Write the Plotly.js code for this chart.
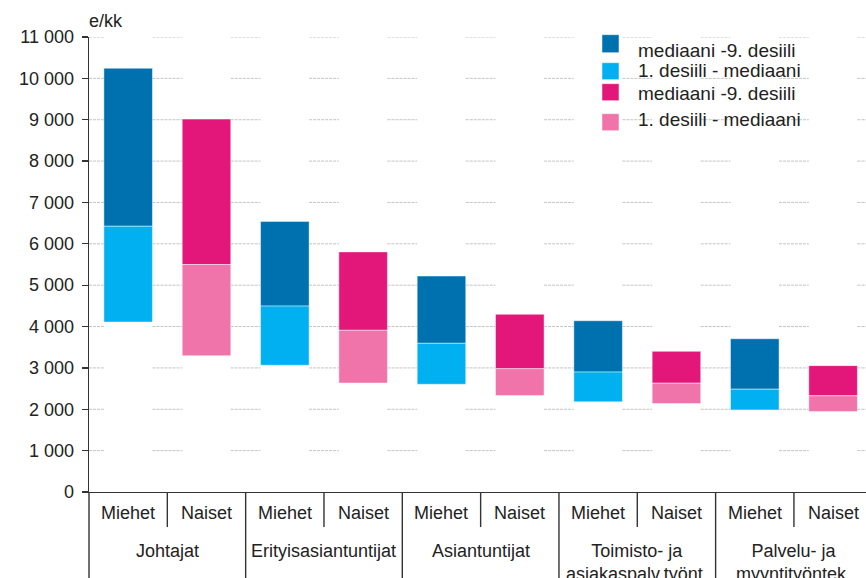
<!DOCTYPE html>
<html><head><meta charset="utf-8">
<script src="https://cdn.plot.ly/plotly-3.0.1.min.js"></script>
<style>html,body{margin:0;padding:0;background:#fff}#chart{width:866px;height:578px}</style>
</head><body><div id="chart"></div>
<script>
// ---- data ----
const groups = ["Johtajat", "Erityisasiantuntijat", "Asiantuntijat", "Toimisto- ja<br>asiakaspalv.työnt.", "Palvelu- ja<br>myyntityöntek."];
const genderLabels = ["Miehet", "Naiset"];
const menD1 = [4110, 3065, 2605, 2180, 1985];
const menMedian = [6425, 4495, 3595, 2900, 2485];
const menD9 = [10245, 6540, 5220, 4140, 3705];
const womenD1 = [3295, 2635, 2330, 2140, 1945];
const womenMedian = [5500, 3910, 2980, 2630, 2325];
const womenD9 = [9015, 5805, 4295, 3400, 3055];
const legendNames = ["mediaani -9. desiili", "1. desiili - mediaani", "mediaani -9. desiili", "1. desiili - mediaani"];
const yTickVals = [0, 1000, 2000, 3000, 4000, 5000, 6000, 7000, 8000, 9000, 10000, 11000];
const yTickText = ["0", "1 000", "2 000", "3 000", "4 000", "5 000", "6 000", "7 000", "8 000", "9 000", "10 000", "11 000"];
const unitLabel = "e/kk";

// ---- layout settings ----
const FONT = "'Liberation Sans', Arial, sans-serif";
const TXT = "#222";
const BW = 0.62;
const XR = [-0.5, 9.42];
const colors = ["#0071AF", "#00B0F0", "#E3177A", "#F073AA"];
// manual legend placement (paper coords)
const legSquareX = [0.6602, 0.6821];
const legSquareY = [[0.9655, 1.0051], [0.9062, 0.9435], [0.8600, 0.8974], [0.7941, 0.8314]];
const legTextX = 0.7040;
const legTextY = [0.9714, 0.9253, 0.8754, 0.8193];

const menX = groups.map((g, i) => 2 * i);
const womenX = groups.map((g, i) => 2 * i + 1);
const allX = menX.concat(womenX).sort((a, b) => a - b);

function diff(a, b) { return a.map((v, i) => v - b[i]); }

const barLine = {color: "rgba(255,255,255,0.45)", width: 1};
const traces = [
  {type: "bar", x: menX, y: diff(menD9, menMedian), base: menMedian, name: legendNames[0], marker: {color: colors[0], line: barLine}},
  {type: "bar", x: menX, y: diff(menMedian, menD1), base: menD1, name: legendNames[1], marker: {color: colors[1], line: barLine}},
  {type: "bar", x: womenX, y: diff(womenD9, womenMedian), base: womenMedian, name: legendNames[2], marker: {color: colors[2], line: barLine}},
  {type: "bar", x: womenX, y: diff(womenMedian, womenD1), base: womenD1, name: legendNames[3], marker: {color: colors[3], line: barLine}}
].map(t => Object.assign(t, {width: BW, hoverinfo: "skip", showlegend: false}));

const toPaperX = x => (x - XR[0]) / (XR[1] - XR[0]);
const shapes = [];
// gridlines between bars
yTickVals.slice(1).forEach(v => {
  const edges = [XR[0]];
  allX.forEach(x => { edges.push(x - BW / 2); edges.push(x + BW / 2); });
  edges.push(XR[1]);
  for (let k = 0; k < edges.length; k += 2) {
    shapes.push({type: "line", xref: "x", yref: "y", x0: edges[k], x1: edges[k + 1], y0: v, y1: v,
      layer: "below", line: {color: "#c4c4c4", width: 1, dash: "3px,1px"}});
  }
});
// group dividers (full height) and gender dividers (short)
groups.forEach((g, i) => {
  const xg = 2 * i - 0.5;
  shapes.push({type: "line", xref: "paper", yref: "paper", x0: toPaperX(xg), x1: toPaperX(xg), y0: 0, y1: -0.2,
    line: {color: "#333", width: 1.4}});
  const xs = 2 * i + 0.5;
  shapes.push({type: "line", xref: "paper", yref: "paper", x0: toPaperX(xs), x1: toPaperX(xs), y0: 0, y1: -0.077,
    line: {color: "#333", width: 1.4}});
});
// legend squares
colors.forEach((c, i) => {
  shapes.push({type: "rect", xref: "paper", yref: "paper", x0: legSquareX[0], x1: legSquareX[1], y0: legSquareY[i][0], y1: legSquareY[i][1],
    fillcolor: c, line: {color: "rgba(255,255,255,0.5)", width: 1}});
});

const annotations = [];
groups.forEach((g, i) => {
  annotations.push({xref: "x", yref: "paper", x: menX[i], y: -0.047, text: genderLabels[0], showarrow: false, yanchor: "middle"});
  annotations.push({xref: "x", yref: "paper", x: womenX[i], y: -0.047, text: genderLabels[1], showarrow: false, yanchor: "middle"});
  annotations.push({xref: "x", yref: "paper", x: 2 * i + 0.5, y: -0.103, text: g, showarrow: false, yanchor: "top"});
});
annotations.push({xref: "paper", yref: "paper", x: -0.003, y: 1.036, xanchor: "left", yanchor: "middle", text: unitLabel, showarrow: false, font: {size: 18}});
legendNames.forEach((n, i) => {
  annotations.push({xref: "paper", yref: "paper", x: legTextX, y: legTextY[i], xanchor: "left", yanchor: "middle", text: n, showarrow: false, font: {size: 19}});
});

const layout = {
  width: 866, height: 578,
  margin: {l: 89, r: 0, t: 37, b: 86, pad: 0},
  paper_bgcolor: "#fff", plot_bgcolor: "#fff",
  font: {family: FONT, size: 18, color: TXT},
  barmode: "overlay",
  showlegend: false,
  xaxis: {range: XR, showgrid: false, zeroline: false, showticklabels: false, ticks: "", showline: true, linecolor: "#333", linewidth: 1.4, fixedrange: true},
  yaxis: {range: [0, 11000], tickvals: yTickVals, ticktext: yTickText, ticks: "outside", ticklen: 6, tickcolor: "#333", tickwidth: 1.2,
    showline: true, linecolor: "#333", linewidth: 1.4, showgrid: false, zeroline: false, ticklabelstandoff: 4, fixedrange: true},
  shapes: shapes,
  annotations: annotations
};

Plotly.newPlot("chart", traces, layout, {displayModeBar: false, staticPlot: true});
</script>
</body></html>
